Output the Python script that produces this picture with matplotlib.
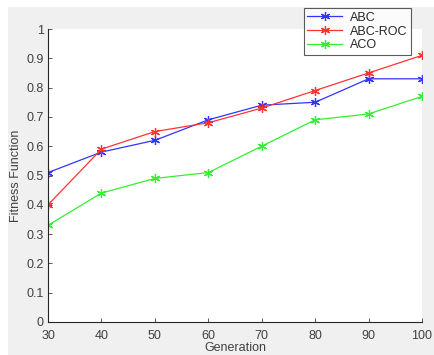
import matplotlib.pyplot as plt
from matplotlib.patches import Rectangle

plt.rcParams['font.family'] = ['Liberation Sans', 'DejaVu Sans']

generations = [30, 40, 50, 60, 70, 80, 90, 100]
abc = [0.51, 0.58, 0.62, 0.69, 0.74, 0.75, 0.83, 0.83]
abc_roc = [0.40, 0.59, 0.65, 0.68, 0.73, 0.79, 0.85, 0.91]
aco = [0.33, 0.44, 0.49, 0.51, 0.60, 0.69, 0.71, 0.77]
yticks = [0, 0.1, 0.2, 0.3, 0.4, 0.5, 0.6, 0.7, 0.8, 0.9, 1]
ytick_labels = ['0', '0.1', '0.2', '0.3', '0.4', '0.5', '0.6', '0.7', '0.8', '0.9', '1']

fig = plt.figure(figsize=(4.34, 3.55), dpi=100, facecolor='white')
# серый фон окна как в MATLAB, с белой полосой сверху и слева
fig.patches.append(Rectangle((8 / 434, 0), 1, 1 - 7 / 355, transform=fig.transFigure,
                             facecolor='#f0f0f0', edgecolor='none', zorder=-10))

ax = fig.add_axes([48 / 434, 1 - 322 / 355, 374 / 434, 293 / 355])
ax.set_facecolor('white')

star = (6, 2, 0)
ax.plot(generations, abc, color='#3333ff', lw=0.9, marker=star, ms=6.5, mew=0.9, label='ABC')
ax.plot(generations, abc_roc, color='#ff3333', lw=0.9, marker=star, ms=6.5, mew=0.9, label='ABC-ROC')
ax.plot(generations, aco, color='#33ee33', lw=0.9, marker=star, ms=6.5, mew=0.9, label='ACO')

ax.set_xlim(30, 100)
ax.set_ylim(0, 1)
ax.set_xticks(generations)
ax.set_yticks(yticks)
ax.set_yticklabels(ytick_labels)

for side in ['top', 'right']:
    ax.spines[side].set_visible(False)
for side in ['left', 'bottom']:
    ax.spines[side].set_color('#262626')
    ax.spines[side].set_linewidth(0.8)

ax.tick_params(direction='in', length=3, width=0.6, colors='#404040',
               labelsize=9, labelcolor='#404040')
ax.tick_params(axis='y', pad=3)
ax.tick_params(axis='x', pad=6)
ax.set_xlabel('Generation', fontsize=9, color='#404040', labelpad=0)
ax.set_ylabel('Fitness Function', fontsize=9, color='#404040', labelpad=3)

leg = fig.legend(loc='upper right', bbox_to_anchor=(411 / 434, 1 - 8 / 355),
                 fontsize=9, frameon=True, fancybox=False, handlelength=2.8,
                 borderpad=0.3, labelspacing=0.15, handletextpad=0.6, borderaxespad=0)
leg.get_frame().set_edgecolor('#333333')
leg.get_frame().set_linewidth(0.8)
for t in leg.get_texts():
    t.set_color('#262626')

fig.savefig('out.png', dpi=100, facecolor=fig.get_facecolor())
